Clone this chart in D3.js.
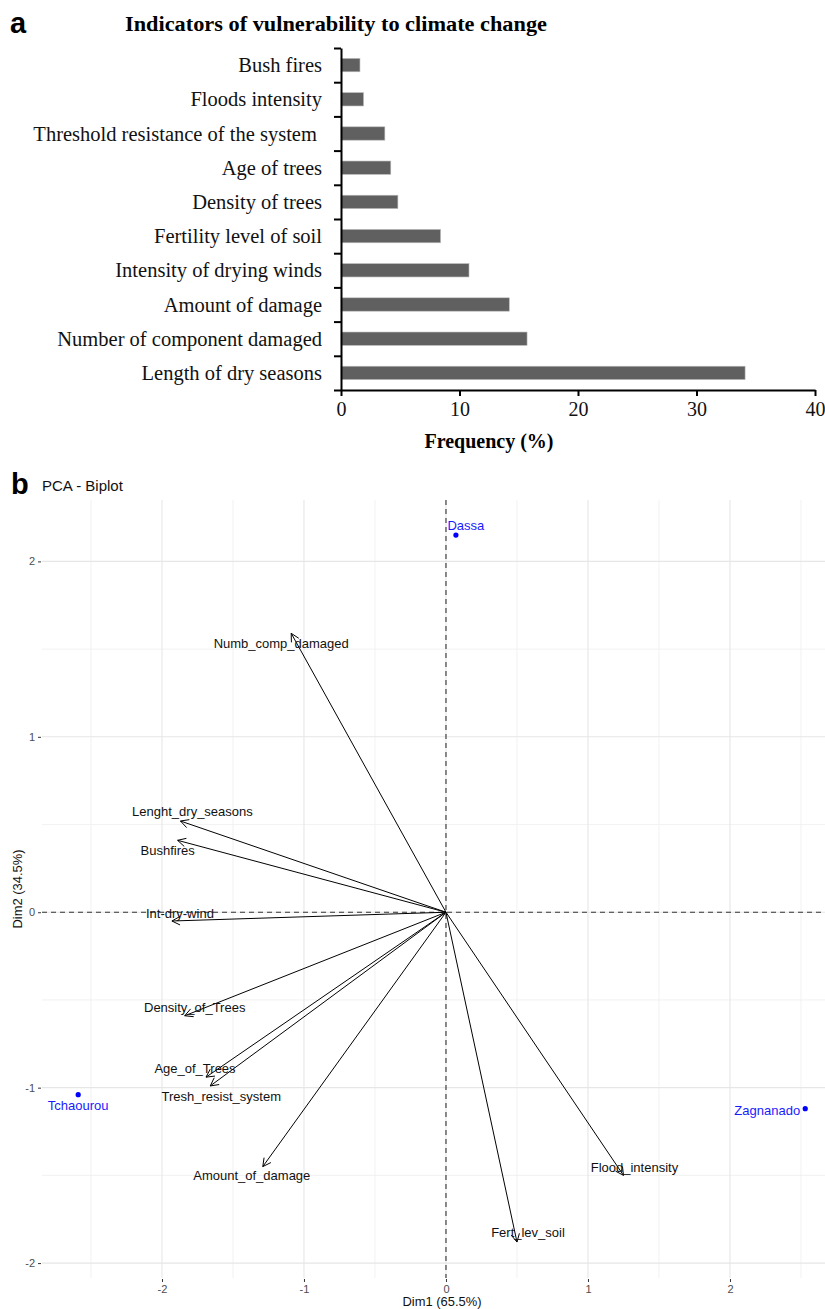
<!DOCTYPE html>
<html>
<head>
<meta charset="utf-8">
<script src="https://cdn.jsdelivr.net/npm/d3@7"></script>
<style>
  html, body { margin: 0; padding: 0; background: #fff; }
  svg { display: block; }
</style>
</head>
<body>
<svg id="chart" width="825" height="1309"></svg>
<script>
// ---------- Panel a data ----------
const barCategories = [
  "Bush fires",
  "Floods intensity",
  "Threshold resistance of the system ",
  "Age of trees",
  "Density of trees",
  "Fertility level of soil",
  "Intensity of drying winds",
  "Amount of damage",
  "Number of component damaged",
  "Length of dry seasons"
];
const barValues = [1.6, 1.9, 3.7, 4.2, 4.8, 8.4, 10.8, 14.2, 15.7, 34.1];
const freqTicks = [0, 10, 20, 30, 40];

// ---------- Panel b data ----------
const varNames = ["Numb_comp_damaged", "Lenght_dry_seasons", "Bushfires", "Int-dry-wind",
  "Density_of_Trees", "Age_of_Trees", "Tresh_resist_system", "Amount_of_damage",
  "Fert_lev_soil", "Flood_intensity"];
const varDim1 = [-1.09, -1.87, -1.89, -1.93, -1.84, -1.69, -1.66, -1.29, 0.50, 1.25];
const varDim2 = [1.59, 0.52, 0.41, -0.05, -0.59, -0.94, -0.99, -1.45, -1.88, -1.50];
const indNames = ["Dassa", "Tchaourou", "Zagnanado"];
const indDim1 = [0.07, -2.59, 2.53];
const indDim2 = [2.15, -1.04, -1.12];
const pcaTicks = [-2, -1, 0, 1, 2];
const pcaMinor = [-2.5, -1.5, -0.5, 0.5, 1.5, 2.5];

// label offsets (pixels, layout only)
const varLabelOffsets = [[-10, 10], [12, -10], [-10, 10], [8, -8], [10, -8],
  [-11, -9], [11, 11], [-11, 9], [11, -10], [11, -8]];
const indLabelOffsets = [[10, -10], [0, 11], [-38, 2]];

const svg = d3.select("#chart");
svg.append("rect").attr("width", 825).attr("height", 1309).attr("fill", "#fff");

const serif = "'Liberation Serif', 'Times New Roman', serif";
const sans = "'Liberation Sans', Arial, Helvetica, sans-serif";
const narrow = "'Liberation Sans Narrow', 'Liberation Sans', Arial, sans-serif";

// ================= Panel a =================
svg.append("text").attr("x", 10).attr("y", 33)
  .attr("font-family", sans).attr("font-weight", "bold").attr("font-size", 29)
  .text("a");
svg.append("text").attr("x", 125).attr("y", 31)
  .attr("font-family", serif).attr("font-weight", "bold").attr("font-size", 20)
  .attr("textLength", 422).attr("lengthAdjust", "spacingAndGlyphs")
  .text("Indicators of vulnerability to climate change");

const xA = d3.scaleLinear().domain([0, 40]).range([341, 815]);
const yA = d3.scaleBand().domain(barCategories).range([48, 390]).paddingInner(0.61).paddingOuter(0.305);

const gA = svg.append("g");
gA.selectAll("rect.bar").data(barValues).enter().append("rect")
  .attr("class", "bar")
  .attr("x", xA(0))
  .attr("y", (d, i) => yA(barCategories[i]))
  .attr("width", d => xA(d) - xA(0))
  .attr("height", yA.bandwidth())
  .attr("fill", "#606060")
  .attr("stroke", "#b8b8b8").attr("stroke-width", 0.6);

// x axis
const axA = gA.append("g").attr("transform", "translate(0,390)")
  .call(d3.axisBottom(xA).tickValues(freqTicks).tickSize(6).tickSizeOuter(0).tickPadding(6));
axA.select(".domain").attr("stroke", "#000").attr("stroke-width", 2);
axA.selectAll(".tick line").attr("stroke", "#000").attr("stroke-width", 2);
axA.selectAll(".tick text").attr("font-family", serif).attr("font-size", 20).attr("fill", "#111");

// y axis (ticks at band boundaries)
const yIdx = d3.scaleLinear().domain([0, barCategories.length]).range([48, 390]);
const ayA = gA.append("g").attr("transform", "translate(341,0)")
  .call(d3.axisLeft(yIdx).ticks(10).tickSize(7).tickSizeOuter(0).tickFormat(""));
ayA.select(".domain").attr("stroke", "#000").attr("stroke-width", 2);
ayA.selectAll(".tick line").attr("stroke", "#000").attr("stroke-width", 2);

gA.selectAll("text.cat").data(barCategories).enter().append("text")
  .attr("class", "cat")
  .attr("x", 322)
  .attr("y", d => yA(d) + yA.bandwidth() / 2)
  .attr("dy", "0.35em")
  .attr("text-anchor", "end")
  .style("white-space", "pre")
  .attr("font-family", serif).attr("font-size", 20.5).attr("fill", "#111")
  .text(d => d);

svg.append("text").attr("x", 489).attr("y", 448).attr("text-anchor", "middle")
  .attr("font-family", serif).attr("font-weight", "bold").attr("font-size", 20)
  .text("Frequency (%)");

// ================= Panel b =================
svg.append("text").attr("x", 11).attr("y", 494)
  .attr("font-family", sans).attr("font-weight", "bold").attr("font-size", 29)
  .text("b");
svg.append("text").attr("x", 42).attr("y", 491)
  .attr("font-family", sans).attr("font-size", 15).attr("fill", "#111")
  .text("PCA - Biplot");

const x = d3.scaleLinear().domain([-2.845, 2.796]).range([42, 843]);
const y = d3.scaleLinear().domain([-2.085, 2.35]).range([1278, 500]);

const gB = svg.append("g");
// minor grid
gB.selectAll("line.minx").data(pcaMinor).enter().append("line")
  .attr("x1", d => x(d)).attr("x2", d => x(d)).attr("y1", 500).attr("y2", 1278)
  .attr("stroke", "#efefef").attr("stroke-width", 0.8);
gB.selectAll("line.miny").data(pcaMinor.filter(d => d > -2.085 && d < 2.35)).enter().append("line")
  .attr("y1", d => y(d)).attr("y2", d => y(d)).attr("x1", 42).attr("x2", 843)
  .attr("stroke", "#efefef").attr("stroke-width", 0.8);
// major grid
gB.selectAll("line.majx").data(pcaTicks).enter().append("line")
  .attr("x1", d => x(d)).attr("x2", d => x(d)).attr("y1", 500).attr("y2", 1278)
  .attr("stroke", "#e6e6e6").attr("stroke-width", 1.1);
gB.selectAll("line.majy").data(pcaTicks).enter().append("line")
  .attr("y1", d => y(d)).attr("y2", d => y(d)).attr("x1", 42).attr("x2", 843)
  .attr("stroke", "#e6e6e6").attr("stroke-width", 1.1);

// dashed reference lines
gB.append("line").attr("x1", x(0)).attr("x2", x(0)).attr("y1", 500).attr("y2", 1278)
  .attr("stroke", "#333").attr("stroke-width", 1.1).attr("stroke-dasharray", "5,4");
gB.append("line").attr("y1", y(0)).attr("y2", y(0)).attr("x1", 42).attr("x2", 843)
  .attr("stroke", "#333").attr("stroke-width", 1.1).attr("stroke-dasharray", "5,4");

// axes
const fmt = d => String(d);
const axB = gB.append("g").attr("transform", "translate(0,1279)")
  .call(d3.axisBottom(x).tickValues(pcaTicks).tickFormat(fmt).tickSize(3).tickPadding(3));
axB.select(".domain").remove();
axB.selectAll(".tick line").attr("stroke", "#333");
axB.selectAll(".tick text").attr("font-family", narrow).attr("font-size", 11).attr("fill", "#4d4d4d");

const ayB = gB.append("g").attr("transform", "translate(41,0)")
  .call(d3.axisLeft(y).tickValues(pcaTicks).tickFormat(fmt).tickSize(3).tickPadding(3));
ayB.select(".domain").remove();
ayB.selectAll(".tick line").attr("stroke", "#333");
ayB.selectAll(".tick text").attr("font-family", narrow).attr("font-size", 11).attr("fill", "#4d4d4d");

svg.append("text").attr("x", 442).attr("y", 1306).attr("text-anchor", "middle")
  .attr("font-family", narrow).attr("font-size", 13.5).attr("fill", "#111")
  .attr("textLength", 79).attr("lengthAdjust", "spacingAndGlyphs")
  .text("Dim1 (65.5%)");
svg.append("text").attr("transform", "translate(22,889) rotate(-90)").attr("text-anchor", "middle")
  .attr("font-family", narrow).attr("font-size", 13.5).attr("fill", "#111")
  .attr("textLength", 79).attr("lengthAdjust", "spacingAndGlyphs")
  .text("Dim2 (34.5%)");

// variable arrows
const arrowLen = 8, arrowHalf = 4.2;
varNames.forEach((name, i) => {
  const x0 = x(0), y0 = y(0), x1 = x(varDim1[i]), y1 = y(varDim2[i]);
  gB.append("line").attr("x1", x0).attr("y1", y0).attr("x2", x1).attr("y2", y1)
    .attr("stroke", "#000").attr("stroke-width", 1);
  const ang = Math.atan2(y1 - y0, x1 - x0);
  const bx = x1 - arrowLen * Math.cos(ang), by = y1 - arrowLen * Math.sin(ang);
  const px = -Math.sin(ang) * arrowHalf, py = Math.cos(ang) * arrowHalf;
  gB.append("path")
    .attr("d", `M${bx + px},${by + py}L${x1},${y1}L${bx - px},${by - py}`)
    .attr("fill", "none").attr("stroke", "#000").attr("stroke-width", 1);
  gB.append("text")
    .attr("x", x1 + varLabelOffsets[i][0]).attr("y", y1 + varLabelOffsets[i][1])
    .attr("dy", "0.35em").attr("text-anchor", "middle")
    .attr("font-family", sans).attr("font-size", 13).attr("fill", "#111")
    .text(name);
});

// individuals
indNames.forEach((name, i) => {
  const px = x(indDim1[i]), py = y(indDim2[i]);
  gB.append("circle").attr("cx", px).attr("cy", py).attr("r", 2.6).attr("fill", "#0000ff");
  gB.append("text")
    .attr("x", px + indLabelOffsets[i][0]).attr("y", py + indLabelOffsets[i][1])
    .attr("dy", "0.35em").attr("text-anchor", "middle")
    .attr("font-family", sans).attr("font-size", 13).attr("fill", "#1a1aff")
    .text(name);
});
</script>
</body>
</html>
